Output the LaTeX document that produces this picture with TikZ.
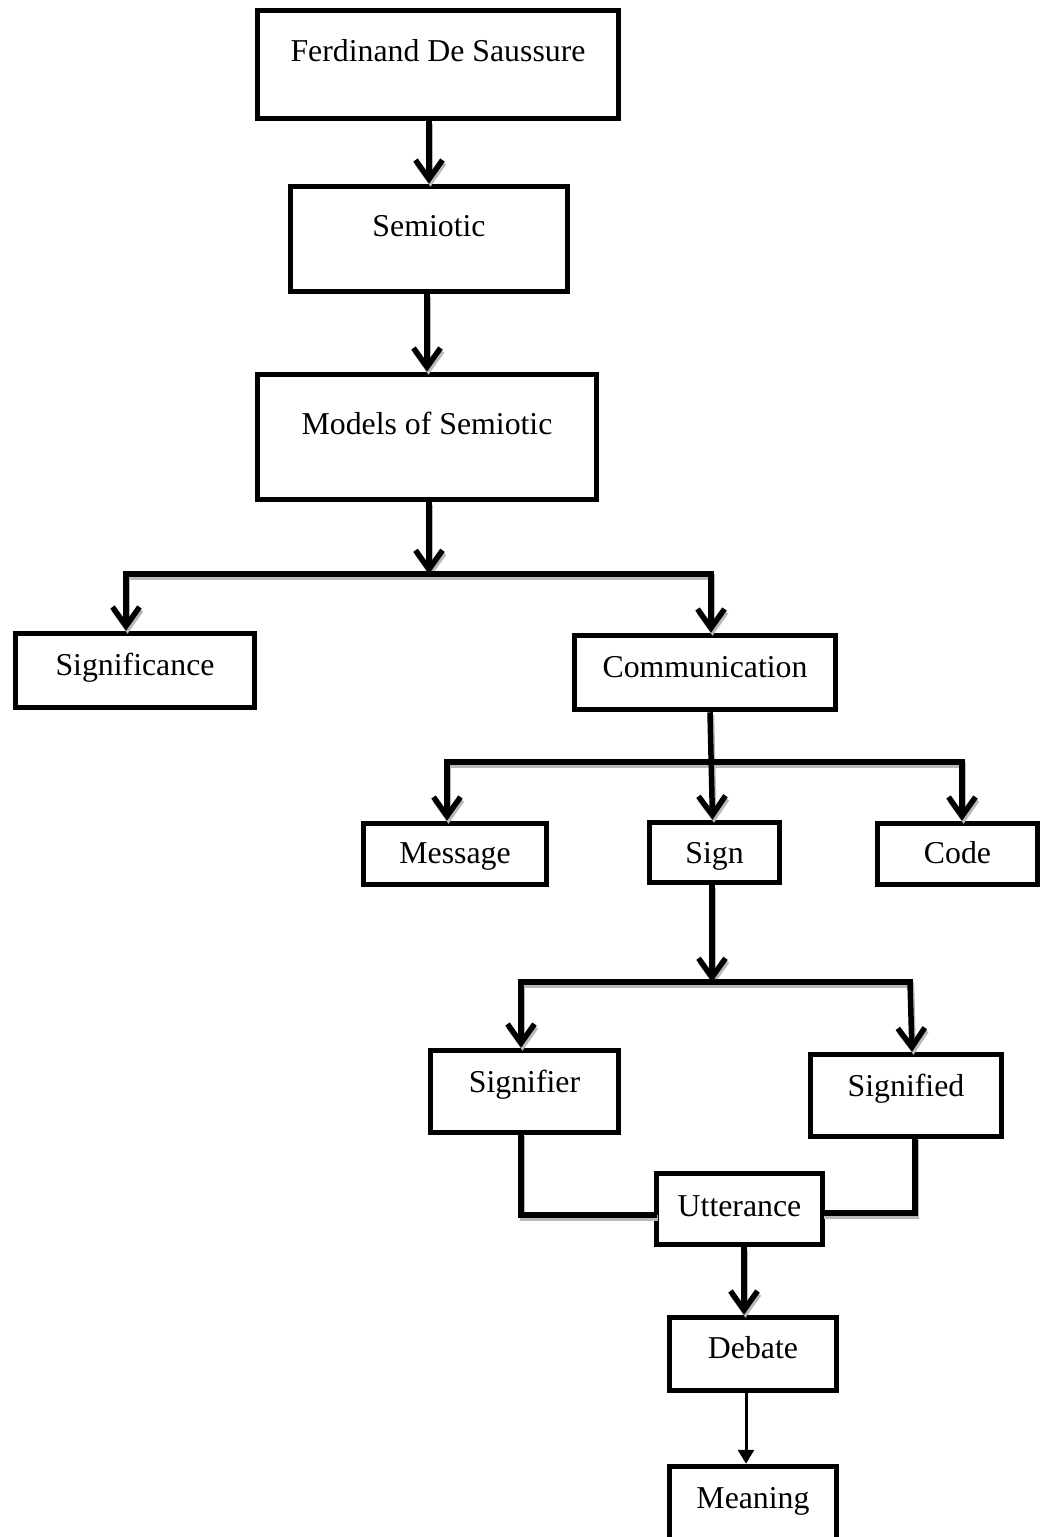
\documentclass[tikz,border=0pt]{standalone}
\usepackage{fontspec}
\setmainfont{Liberation Serif}
\usetikzlibrary{arrows.meta}
\newcommand{\myconnectors}{%
\draw[arr] (sem.north |- fer.south) -- (sem.north);
\draw[arr] (mod.north |- sem.south) -- (mod.north);
\draw[conn] (b1l) -- (b1r);
\draw[arr] (b1 |- mod.south) -- (b1);
\draw[arr] (b1l) -- (b1l |- sig.north);
\draw[arr] (b1r) -- (b1r |- com.north);
\draw[conn] (b2l) -- (b2r);
\draw[arr] ([xshift=5pt]com.south) -- ([xshift=-2pt]sgn.north);
\draw[arr] (b2l) -- (b2l |- mes.north);
\draw[arr] (b2r) -- (b2r |- cod.north);
\draw[conn] (b3l) -- (b3r);
\draw[arr] (b3 |- sgn.south) -- (b3);
\draw[arr] (b3l) -- (b3l |- sfr.north);
\draw[arr] (b3r) -- ([xshift=6pt]sfd.north);
\draw[conn] (sfrc |- sfr.south) -- (sfrc) -- (utt.west |- sfrc);
\draw[conn] (sfdc |- sfd.south) -- (sfdc) -- (utt.east |- sfdc);
\draw[arr] ([xshift=4.5pt]utt.south) -- ([xshift=-9pt]deb.north);
}
\begin{document}
\begin{tikzpicture}[x=1pt,y=-1pt,
  box/.style={draw=black, line width=5.5pt, rectangle, inner sep=0pt},
  txt/.style={anchor=base, inner sep=0pt, font=\fontsize{31.8}{38}\selectfont},
  conn/.style={draw=lc, line width=5.5pt, line cap=rect},
  arr/.style={draw=lc, line width=5.5pt, -{Straight Barb[length=19pt,width=27pt]}},
  thinarr/.style={line width=3pt, -{Triangle[length=14pt,width=16pt]}}
]
\clip (0,0) rectangle (1043,1537);
\fill[white] (0,0) rectangle (1043,1537);

% boxes
\node[box, minimum width=361pt, minimum height=108pt] (fer) at (438,64.5) {};
\node[box, minimum width=277pt, minimum height=105pt] (sem) at (429,239) {};
\node[box, minimum width=339pt, minimum height=125pt] (mod) at (427,437) {};
\node[box, minimum width=239pt, minimum height=74pt] (sig) at (135,670.5) {};
\node[box, minimum width=261pt, minimum height=74pt] (com) at (705,672.5) {};
\node[box, minimum width=183pt, minimum height=61pt] (mes) at (455,854) {};
\node[box, minimum width=130pt, minimum height=60pt] (sgn) at (714.5,852.5) {};
\node[box, minimum width=160pt, minimum height=61pt] (cod) at (957.5,854) {};
\node[box, minimum width=188pt, minimum height=82pt] (sfr) at (524.5,1091.5) {};
\node[box, minimum width=191pt, minimum height=82pt] (sfd) at (906,1095.5) {};
\node[box, minimum width=166pt, minimum height=71pt] (utt) at (739.5,1209) {};
\node[box, minimum width=167pt, minimum height=73pt] (deb) at (753,1354) {};
\node[box, minimum width=167pt, minimum height=90pt] (mea) at (753,1511.5) {};

% texts
\node[txt] (fer-t) at (438,61) {Ferdinand De Saussure};
\node[txt] (sem-t) at (429,236) {Semiotic};
\node[txt] (mod-t) at (427,434) {Models of Semiotic};
\node[txt] (sig-t) at (135,675) {Significance};
\node[txt] (com-t) at (705,677) {Communication};
\node[txt] (mes-t) at (455,863) {Message};
\node[txt] (sgn-t) at (714.5,863) {Sign};
\node[txt] (cod-t) at (957.5,863) {Code};
\node[txt] (sfr-t) at (524.5,1092) {Signifier};
\node[txt] (sfd-t) at (906,1096) {Signified};
\node[txt] (utt-t) at (739.5,1216) {Utterance};
\node[txt] (deb-t) at (753,1358) {Debate};
\node[txt] (mea-t) at (753,1508) {Meaning};

% bus coordinates
\coordinate (b1) at (429,574);
\coordinate (b1l) at (126,574);
\coordinate (b1r) at (711,574);
\coordinate (b2l) at (447,762);
\coordinate (b2r) at (962,762);
\coordinate (b3) at (712,982);
\coordinate (b3l) at (521,982);
\coordinate (b3r) at (910,982);
\coordinate (sfrc) at (521,1215);
\coordinate (sfdc) at (915,1213);

% connectors: gray shadow, then black
\begin{scope}[transform canvas={shift={(1.5pt,-3pt)}}]
\colorlet{lc}{gray!55}
\myconnectors
\end{scope}
\colorlet{lc}{black}
\myconnectors
\draw[thinarr] ([xshift=-7pt]deb.south) -- ([xshift=-7pt]mea.north);
\end{tikzpicture}
\end{document}
